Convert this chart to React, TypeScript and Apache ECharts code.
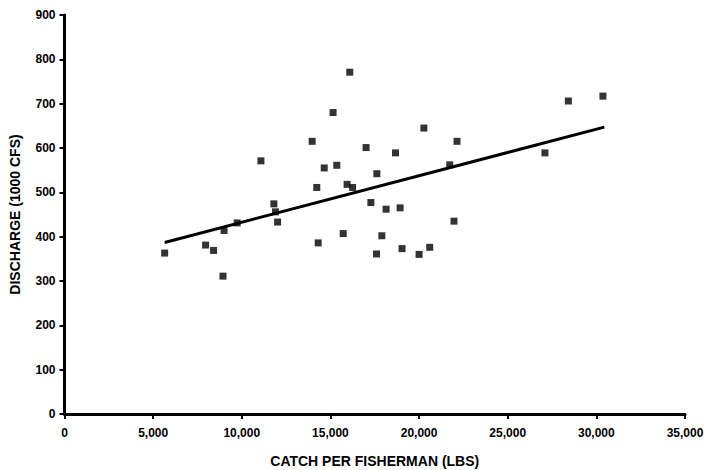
import React, { useEffect, useRef } from "react";
import * as echarts from "echarts";

const catchLbs = [
  5650, 7960, 8410, 8940, 9000, 9740, 11080, 11810, 11900, 12020, 13970, 14230, 14310, 14650,
  15150, 15360, 15720, 15940, 16090, 16250, 17010, 17280, 17600, 17620, 17900, 18140, 18670,
  18930, 19040, 20000, 20270, 20600, 21730, 21970, 22140, 27100, 28420, 30370,
];
const discharge = [
  363, 381, 369, 311, 414, 431, 571, 474, 456, 433, 615, 511, 386, 555,
  680, 561, 407, 518, 771, 511, 601, 477, 361, 542, 402, 462, 589,
  465, 373, 360, 645, 376, 562, 435, 615, 589, 706, 717,
];
const trendX = [5650, 30450];
const trendY = [387, 647];

const FONT = "Arial, 'Liberation Sans', Helvetica, sans-serif";

export default function App() {
  const ref = useRef<HTMLDivElement>(null);
  useEffect(() => {
    if (!ref.current) return;
    const chart = echarts.init(ref.current, null, { renderer: "svg" });
    chart.setOption({
      animation: false,
      backgroundColor: "#ffffff",
      grid: {
        left: 64.5,
        right: 20,
        top: 15,
        bottom: 56,
        containLabel: false,
        outerBoundsMode: "none",
      },
      xAxis: {
        type: "value",
        min: 0,
        max: 35000,
        interval: 5000,
        name: "CATCH PER FISHERMAN (LBS)",
        nameLocation: "middle",
        nameGap: 40,
        nameTextStyle: { fontFamily: FONT, fontWeight: "bold", fontSize: 14, color: "#000" },
        axisLine: { show: true, lineStyle: { color: "#000", width: 3 } },
        axisTick: { show: true, inside: false, length: 5, lineStyle: { color: "#000", width: 2 } },
        axisLabel: {
          fontFamily: FONT,
          fontWeight: "bold",
          fontSize: 12,
          color: "#000",
          margin: 13,
          formatter: (v: number) => v.toLocaleString("en-US"),
        },
        splitLine: { show: false },
      },
      yAxis: {
        type: "value",
        min: 0,
        max: 900,
        interval: 100,
        name: "DISCHARGE (1000 CFS)",
        nameLocation: "middle",
        nameGap: 43,
        nameRotate: 90,
        nameTextStyle: { fontFamily: FONT, fontWeight: "bold", fontSize: 14, color: "#000" },
        axisLine: { show: true, lineStyle: { color: "#000", width: 3 } },
        axisTick: { show: true, inside: false, length: 5, lineStyle: { color: "#000", width: 2 } },
        axisLabel: {
          fontFamily: FONT,
          fontWeight: "bold",
          fontSize: 12,
          color: "#000",
          margin: 9,
        },
        splitLine: { show: false },
      },
      series: [
        {
          type: "line",
          data: trendX.map((x, i) => [x, trendY[i]]),
          symbol: "none",
          lineStyle: { color: "#000", width: 3 },
          z: 2,
        },
        {
          type: "scatter",
          data: catchLbs.map((x, i) => [x, discharge[i]]),
          symbol: "rect",
          symbolSize: 7,
          itemStyle: { color: "#000" },
          z: 3,
        },
      ],
    });
    return () => chart.dispose();
  }, []);
  return <div ref={ref} style={{ width: 705, height: 470, position: "absolute", left: 0, top: 0 }} />;
}
